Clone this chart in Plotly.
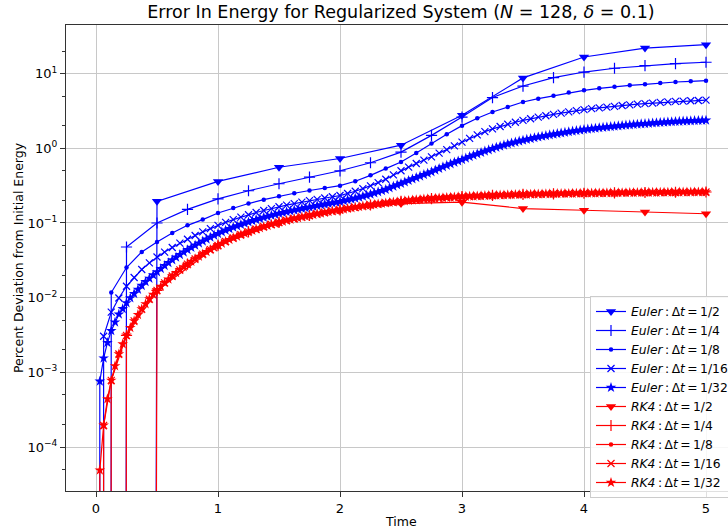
import numpy as np
import plotly.graph_objects as go

# ---------------- data (percent deviation from initial energy) ----------------
euler_1_2 = [0.0, 0.195, 0.36, 0.557, 0.73, 1.10, 2.77, 8.76, 16.7, 22.0, 24.4]

euler_1_4 = [0.0, 0.0477, 0.1, 0.152, 0.21, 0.27, 0.335, 0.41, 0.50, 0.64, 0.89,
             1.49, 2.62, 4.78, 6.82, 8.84, 10.5, 11.8, 12.8, 13.6, 14.2]

euler_1_8 = [0.0, 0.0117, 0.0253, 0.041, 0.0557, 0.0735, 0.093, 0.111, 0.136, 0.159,
             0.182, 0.205, 0.228, 0.25, 0.272, 0.294, 0.316, 0.362, 0.434, 0.535,
             0.656, 0.865, 1.16, 1.54, 2.01, 2.52, 3.06, 3.57, 4.17, 4.62,
             5.07, 5.57, 5.97, 6.35, 6.69, 6.97, 7.19, 7.48, 7.72, 7.88, 8.05]

euler_1_16 = [0.0, 0.00304, 0.0064, 0.0099, 0.0142, 0.0186, 0.0238, 0.0292, 0.0350,
              0.0408, 0.0470, 0.0536, 0.0606, 0.0680, 0.0759, 0.0842, 0.0930,
              0.102, 0.111, 0.120, 0.129, 0.138, 0.147, 0.156, 0.165, 0.1735, 0.182,
              0.1905, 0.199, 0.2075, 0.216, 0.2245, 0.233, 0.248, 0.266, 0.288, 0.314,
              0.3465, 0.385, 0.44, 0.50, 0.56, 0.625, 0.695, 0.766, 0.86, 0.96, 1.08,
              1.21, 1.36, 1.51, 1.67, 1.82, 1.96, 2.10, 2.23, 2.37, 2.49, 2.62, 2.73,
              2.85, 2.96, 3.08, 3.19, 3.29, 3.39, 3.48, 3.56, 3.64, 3.74, 3.82, 3.90,
              3.97, 4.03, 4.11, 4.18, 4.24, 4.29, 4.33, 4.37, 4.41]

euler_1_32 = [0.0, 7.6e-4, 1.55e-3, 2.5e-3, 3.6e-3, 4.7e-3, 6.0e-3, 7.1e-3, 8.5e-3,
              0.0099, 0.0113, 0.0129, 0.0145, 0.0163, 0.0181, 0.0201, 0.0221,
              0.0244, 0.0268, 0.0293, 0.0320, 0.0347, 0.0376, 0.0406, 0.0437,
              0.0469, 0.0502, 0.0536, 0.0571, 0.0607, 0.0643, 0.0681, 0.0720,
              0.0759, 0.0798, 0.0836, 0.0875, 0.0914, 0.0953, 0.0991, 0.1030,
              0.1069, 0.1108, 0.1146, 0.1185, 0.1224, 0.1263, 0.1301, 0.1340,
              0.1376, 0.1413, 0.1449, 0.1485, 0.1521, 0.1558, 0.1594, 0.1630,
              0.1668, 0.1705, 0.1743, 0.1780, 0.1818, 0.1855, 0.1893, 0.1930,
              0.1982, 0.2035, 0.2088, 0.2140, 0.2210, 0.2280, 0.2350, 0.2420,
              0.2515, 0.2610, 0.2705, 0.2800, 0.2943, 0.3085, 0.3228, 0.3370,
              0.3538, 0.3705, 0.3873, 0.4040, 0.4235, 0.4430, 0.4625, 0.4820,
              0.5088, 0.5355, 0.5623, 0.5890, 0.6180, 0.6470, 0.6760, 0.7050,
              0.7388, 0.7725, 0.8063, 0.8400, 0.8775, 0.9150, 0.9525, 0.9900,
              1.0275, 1.0650, 1.1025, 1.1400, 1.1750, 1.2100, 1.2450, 1.2800,
              1.3138, 1.3475, 1.3813, 1.4150, 1.4463, 1.4775, 1.5088, 1.5400,
              1.5713, 1.6025, 1.6338, 1.6650, 1.6938, 1.7225, 1.7513, 1.7800,
              1.8050, 1.8300, 1.8550, 1.8800, 1.9025, 1.9250, 1.9475, 1.9700,
              1.9925, 2.0150, 2.0375, 2.0600, 2.0800, 2.1000, 2.1200, 2.1400,
              2.1575, 2.1750, 2.1925, 2.2100, 2.2275, 2.2450, 2.2625, 2.2800,
              2.2925, 2.3050, 2.3175, 2.3300, 2.3400, 2.3500, 2.3600, 2.3700]

rk4_1_2 = [0.0, 0.0125, 0.05, 0.1, 0.148, 0.182, 0.19, 0.156, 0.148, 0.14, 0.133]

rk4_1_4 = [0.0, 0.00313, 0.0125, 0.0281, 0.05, 0.076, 0.102, 0.126, 0.15, 0.174,
           0.195, 0.212, 0.225, 0.234, 0.241, 0.246, 0.25, 0.253, 0.256, 0.258, 0.26]

rk4_1_8 = [0.0, 7.8e-4, 3.13e-3, 7.03e-3, 0.0125, 0.0195, 0.0281, 0.0383, 0.05,
           0.063, 0.076, 0.089, 0.102, 0.114, 0.126, 0.138, 0.15, 0.162, 0.174,
           0.185, 0.195, 0.204, 0.212, 0.219, 0.225, 0.2295, 0.234, 0.2375, 0.241,
           0.2435, 0.246, 0.248, 0.25, 0.2515, 0.253, 0.2545, 0.256, 0.257, 0.258,
           0.259, 0.26]

rk4_1_16 = [0.0, 1.95e-4, 7.8e-4, 1.76e-3, 3.13e-3, 4.88e-3, 7.03e-3, 9.57e-3,
            0.0125, 0.0158, 0.0195, 0.0236, 0.0281, 0.0330, 0.0383, 0.0439, 0.0500,
            0.0565, 0.0630, 0.0695, 0.0760, 0.0825, 0.0890, 0.0955, 0.1020, 0.1080,
            0.1140, 0.1200, 0.1260, 0.1320, 0.1380, 0.1440, 0.1500, 0.1560, 0.1620,
            0.1680, 0.1740, 0.1795, 0.1850, 0.1900, 0.1950, 0.1995, 0.2040, 0.2080,
            0.2120, 0.2155, 0.2190, 0.2220, 0.2250, 0.2273, 0.2295, 0.2318, 0.2340,
            0.2358, 0.2375, 0.2393, 0.2410, 0.2423, 0.2435, 0.2448, 0.2460, 0.2470,
            0.2480, 0.2490, 0.2500, 0.2508, 0.2515, 0.2523, 0.2530, 0.2538, 0.2545,
            0.2553, 0.2560, 0.2565, 0.2570, 0.2575, 0.2580, 0.2585, 0.2590, 0.2595,
            0.2600]

rk4_1_32 = [0.0, 4.9e-5, 1.95e-4, 4.4e-4, 7.8e-4, 1.22e-3, 1.76e-3, 2.39e-3, 3.13e-3,
            3.96e-3, 4.88e-3, 5.91e-3, 7.03e-3, 8.25e-3, 9.57e-3, 0.0110, 0.0125,
            0.0141, 0.0158, 0.0176, 0.0195, 0.0215, 0.0236, 0.0258, 0.0281,
            0.0305, 0.0330, 0.0356, 0.0383, 0.0411, 0.0439, 0.0469, 0.0500,
            0.0532, 0.0565, 0.0597, 0.0630, 0.0662, 0.0695, 0.0727, 0.0760,
            0.0792, 0.0825, 0.0857, 0.0890, 0.0922, 0.0955, 0.0987, 0.1020,
            0.1050, 0.1080, 0.1110, 0.1140, 0.1170, 0.1200, 0.1230, 0.1260,
            0.1290, 0.1320, 0.1350, 0.1380, 0.1410, 0.1440, 0.1470, 0.1500,
            0.1530, 0.1560, 0.1590, 0.1620, 0.1650, 0.1680, 0.1710, 0.1740,
            0.1768, 0.1795, 0.1823, 0.1850, 0.1875, 0.1900, 0.1925, 0.1950,
            0.1972, 0.1995, 0.2018, 0.2040, 0.2060, 0.2080, 0.2100, 0.2120,
            0.2138, 0.2155, 0.2173, 0.2190, 0.2205, 0.2220, 0.2235, 0.2250,
            0.2261, 0.2273, 0.2284, 0.2295, 0.2306, 0.2318, 0.2329, 0.2340,
            0.2349, 0.2358, 0.2366, 0.2375, 0.2384, 0.2393, 0.2401, 0.2410,
            0.2416, 0.2423, 0.2429, 0.2435, 0.2441, 0.2448, 0.2454, 0.2460,
            0.2465, 0.2470, 0.2475, 0.2480, 0.2485, 0.2490, 0.2495, 0.2500,
            0.2504, 0.2508, 0.2511, 0.2515, 0.2519, 0.2523, 0.2526, 0.2530,
            0.2534, 0.2538, 0.2541, 0.2545, 0.2549, 0.2553, 0.2556, 0.2560,
            0.2562, 0.2565, 0.2568, 0.2570, 0.2572, 0.2575, 0.2578, 0.2580,
            0.2582, 0.2585, 0.2588, 0.2590, 0.2592, 0.2595, 0.2598, 0.2600]

step_labels = ["1/2", "1/4", "1/8", "1/16", "1/32"]
euler_series = [euler_1_2, euler_1_4, euler_1_8, euler_1_16, euler_1_32]
rk4_series = [rk4_1_2, rk4_1_4, rk4_1_8, rk4_1_16, rk4_1_32]

y_tick_vals = [1e-4, 1e-3, 1e-2, 1e-1, 1e0, 1e1]
y_tick_text = ["10<sup>\u22124</sup>", "10<sup>\u22123</sup>", "10<sup>\u22122</sup>",
               "10<sup>\u22121</sup>", "10<sup>0</sup>", "10<sup>1</sup>"]
x_tick_vals = [0, 1, 2, 3, 4, 5]

# ---------------- styling ----------------
FONT = "DejaVu Sans"
markers = [
    dict(symbol="triangle-down", size=9),
    dict(symbol="cross-thin", size=8, line=dict(width=1.2)),
    dict(symbol="circle", size=4.5),
    dict(symbol="x-thin", size=7, line=dict(width=1.2)),
    dict(symbol="star", size=8),
]


def clip_log(vals):
    # like matplotlib's log 'clip' handling: non-positive values go far below the axis
    return [v if v > 0 else 1e-300 for v in vals]


TS = "\u2009"  # thin space, mimics mathtext spacing
fig = go.Figure()
for method, color, series in [("Euler", "#0000ff", euler_series),
                              ("RK4", "#ff0000", rk4_series)]:
    for lab, vals, mk in zip(step_labels, series, markers):
        t = np.linspace(0, 5, len(vals))
        m = dict(mk)
        m["color"] = color
        if "line" in m:
            m["line"] = dict(m["line"], color=color)
        else:
            m["line"] = dict(width=0)
        fig.add_trace(go.Scatter(
            x=t, y=clip_log(vals), mode="lines+markers",
            line=dict(color=color, width=1.2),
            marker=m,
            name=f"<i>{method}</i>{TS}:{TS}\u0394<i>t</i>{TS}={TS}{lab}",
        ))

grid_col = "#c8c8c8"
fig.update_layout(
    width=728, height=531,
    margin=dict(l=66, r=0, t=25, b=40, autoexpand=False),
    paper_bgcolor="white", plot_bgcolor="white",
    font=dict(family=FONT, size=13, color="#000000"),
    title=dict(text="Error In Energy for Regularized System (<i>N</i> = 128, <i>\u03b4</i> = 0.1)",
               x=0.506, xref="paper", xanchor="center",
               y=1 - 12 / 531, yref="container", yanchor="middle",
               font=dict(family=FONT, size=17.5, color="#000000")),
    legend=dict(x=(590 - 66) / 662, xanchor="left", y=(491 - 296) / 466, yanchor="top",
                bgcolor="rgba(255,255,255,0.85)", bordercolor="#cccccc", borderwidth=1,
                font=dict(family=FONT, size=12.3), tracegroupgap=0,
                itemwidth=30),
    showlegend=True,
    annotations=[dict(text="Time", xref="paper", yref="paper",
                      x=(401 - 66) / 662, y=-(521 - 491) / 466,
                      xanchor="center", yanchor="middle", showarrow=False,
                      font=dict(family=FONT, size=12.5, color="#000000"))],
)
fig.update_xaxes(
    range=[(66 - 96) / 122, (728 - 96) / 122],
    tickvals=x_tick_vals, ticks="outside", ticklen=5, tickwidth=1, tickcolor="#333333",
    showgrid=True, gridcolor=grid_col, gridwidth=1,
    showline=True, linecolor="#333333", linewidth=1, mirror=True, zeroline=False,
    tickfont=dict(size=13),
)
fig.update_yaxes(
    type="log", range=[-4.589, 1.651],
    tickvals=y_tick_vals, ticktext=y_tick_text,
    ticks="outside", ticklen=5, tickwidth=1, tickcolor="#333333",
    minor=dict(ticks="outside", ticklen=3, tickcolor="#333333", showgrid=False),
    showgrid=True, gridcolor=grid_col, gridwidth=1,
    showline=True, linecolor="#333333", linewidth=1, mirror=False, zeroline=False,
    tickfont=dict(size=13),
    title=dict(text="Percent Deviation from Initial Energy", font=dict(size=12.5), standoff=1),
)

fig.write_html("out.html")
